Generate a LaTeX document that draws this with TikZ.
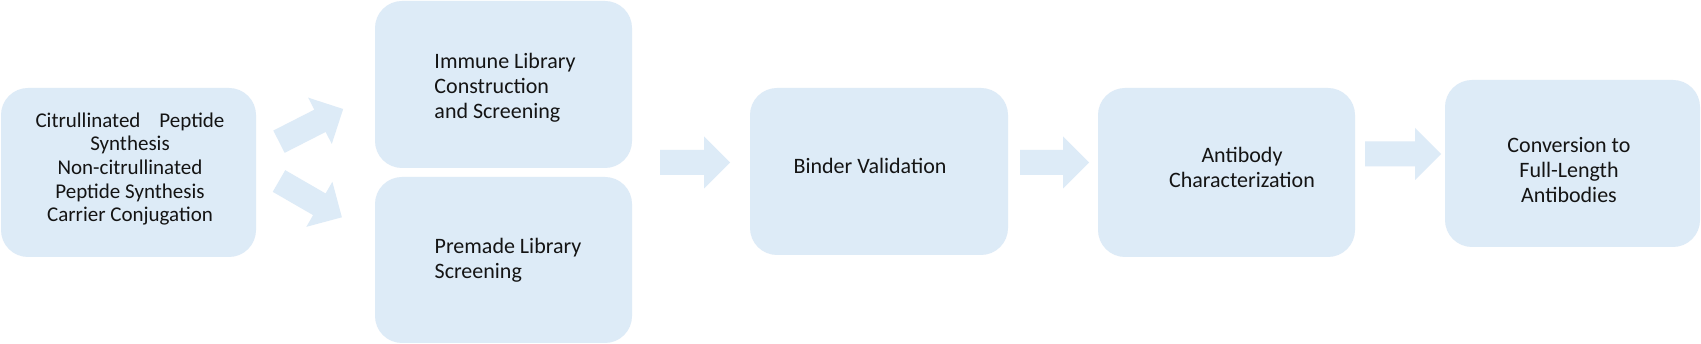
\documentclass[tikz,border=0pt]{standalone}
\usepackage{fontspec}
\setmainfont{Carlito}
\definecolor{boxblue}{RGB}{221,235,247}
\definecolor{txt}{RGB}{20,20,20}
\newcommand\blockarrow[3]{%
  \fill[boxblue, shift={(#1)}, rotate=#2]
    (0,-12.5) -- ({#3-26},-12.5) -- ({#3-26},-26) -- (#3,0) --
    ({#3-26},26) -- ({#3-26},12.5) -- (0,12.5) -- cycle;}
\begin{document}
\begin{tikzpicture}[x=1pt,y=-1pt,
  stage/.style={rectangle, rounded corners=27pt, fill=boxblue, inner sep=0pt},
  label/.style={text=txt, inner sep=0pt, font=\fontsize{22}{25}\selectfont},
  firstlabel/.style={text=txt, inner sep=0pt, font=\fontsize{21}{23.7}\selectfont}]
\useasboundingbox (0,0) rectangle (1701,344);
\fill[white] (0,0) rectangle (1701,344);
% boxes
\node[stage, minimum width=255pt, minimum height=169pt] (b1) at (128.5,172.5) {};
\node[stage, minimum width=257pt, minimum height=167pt] (b2) at (503.5,84.5) {};
\node[stage, minimum width=257pt, minimum height=166pt] (b3) at (503.5,260) {};
\node[stage, minimum width=258pt, minimum height=167pt] (b4) at (879,171.5) {};
\node[stage, minimum width=257pt, minimum height=169pt] (b5) at (1226.5,172.5) {};
\node[stage, minimum width=255pt, minimum height=167pt] (b6) at (1572.5,163.5) {};
% texts
\node[firstlabel, align=center] (t1) at (130,169)
  {Citrullinated\hspace{0.9em}Peptide\\Synthesis\\Non-citrullinated\\Peptide Synthesis\\Carrier Conjugation};
\node[label, align=left] (t2) at (505,87.5) {Immune Library\\Construction\\and Screening};
\node[label, align=left] (t3) at (508,260) {Premade Library\\Screening};
\node[label] (t4) at (870,166) {Binder Validation};
\node[label, align=center] (t5) at (1242,167.5) {Antibody\\Characterization};
\node[label, align=center] (t6) at (1569,170) {Conversion to\\Full-Length\\Antibodies};
% arrow anchors
\coordinate (up) at (279,141.7);
\coordinate (dn) at (279,181);
\coordinate (a34) at (660,162.5);
\coordinate (a45) at (1020,162.5);
\coordinate (a56) at (1365,154);
\blockarrow{up}{27}{72}
\blockarrow{dn}{-30}{72.6}
\blockarrow{a34}{0}{70}
\blockarrow{a45}{0}{69}
\blockarrow{a56}{0}{76}
\end{tikzpicture}
\end{document}
